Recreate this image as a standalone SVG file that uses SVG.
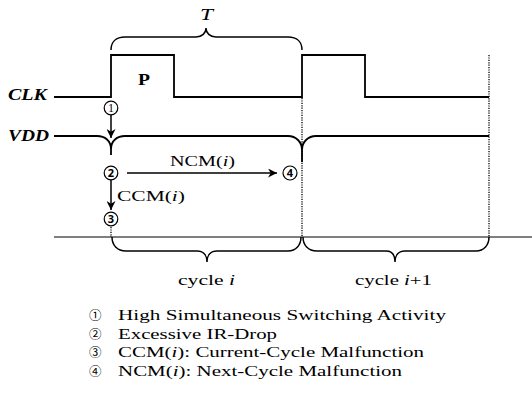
<svg xmlns="http://www.w3.org/2000/svg" width="532" height="397" viewBox="0 0 532 397">
<style>
.t{font-family:"Liberation Serif","Times New Roman",serif;fill:#000}
.wave{fill:none;stroke:#000;stroke-width:1.8}
.brace{fill:none;stroke:#000;stroke-width:1.5}
.dot{fill:none;stroke:#000;stroke-width:1.3;stroke-dasharray:1.2 1.2}
.arr{fill:none;stroke:#000;stroke-width:1.5;marker-end:url(#ah)}
.nc{fill:#fff;stroke:#000;stroke-width:1.2}
.nd{font-family:"Noto Sans","DejaVu Sans",sans-serif;font-size:11px;font-weight:bold;text-anchor:middle;fill:#000}
.ns{font-family:"Liberation Serif",serif;font-size:12px;text-anchor:middle;fill:#000}
.cj{font-family:"Noto Sans CJK JP","DejaVu Sans",sans-serif;font-size:12.5px;fill:#000}
</style>
<defs>
<marker id="ah" viewBox="0 0 10 10" refX="10" refY="5" markerWidth="9" markerHeight="9" markerUnits="userSpaceOnUse" orient="auto">
<path d="M0,0 L10,5 L0,10 L3,5 z" fill="#000"/>
</marker>
</defs>
<g id="signals">
<path id="clk-wave" class="wave" d="M54,97 L111,97 L111,55 L174,55 L174,97 L302,97 L302,55 L365,55 L365,97 L489,97"/>
<path id="vdd-wave" class="wave" d="M54,136 L97,136 C105,136 111,141 111,149 L111,155 M111,155 L111,149 C111,141 117,136 125,136 L288,136 C296,136 302,142 302,150 L302,162 M302,162 L302,150 C302,142 308,136 316,136 L489,136"/>
<line id="axis" x1="54" y1="237" x2="532" y2="237" stroke="#000" stroke-width="1.2"/>
<line class="dot" x1="302" y1="98" x2="302" y2="237"/>
<line class="dot" x1="489" y1="55" x2="489" y2="237"/>
<line class="dot" x1="111" y1="227" x2="111" y2="237"/>
<path id="brace-T" class="brace" d="M111,50 C111,42 116,37 125,37 L196,37 C202,37 206,33 206,28 C206,33 210,37 216,37 L288,37 C297,37 302,42 302,50"/>
<path id="brace-ci" class="brace" d="M112,237 C112,245 117,251 126,251 L197,251 C203,251 207,255 207,262 C207,255 211,251 217,251 L288,251 C296,251 301,245 301,237"/>
<path id="brace-ci1" class="brace" d="M303,237 C303,245 308,251 317,251 L386,251 C392,251 395,255 395,262 C395,255 399,251 405,251 L476,251 C484,251 489,245 489,237"/>
<text class="t" x="200" y="20" font-size="17" font-style="italic" textLength="13" lengthAdjust="spacingAndGlyphs">T</text>
<text class="t" x="138" y="85" font-size="17.5" font-weight="bold" textLength="12" lengthAdjust="spacingAndGlyphs">P</text>
<text class="t" x="8" y="100" font-size="17.5" font-weight="bold" font-style="italic" textLength="39" lengthAdjust="spacingAndGlyphs">CLK</text>
<text class="t" x="8" y="141" font-size="17.5" font-weight="bold" font-style="italic" textLength="41" lengthAdjust="spacingAndGlyphs">VDD</text>
<text class="t" x="178" y="285" font-size="15.5" textLength="57" lengthAdjust="spacingAndGlyphs">cycle <tspan font-style="italic">i</tspan></text>
<text class="t" x="355" y="285" font-size="15.5" textLength="77" lengthAdjust="spacingAndGlyphs">cycle <tspan font-style="italic">i</tspan>+1</text>
</g>
<g id="n1"><circle class="nc" cx="111" cy="108" r="6.8"/><text class="ns" x="111" y="112.3">1</text></g>
<g id="n2"><circle class="nc" cx="111" cy="173" r="6.8"/><text class="nd" x="111" y="177">2</text></g>
<g id="n3"><circle class="nc" cx="111" cy="219" r="6.8"/><text class="nd" x="111" y="223">3</text></g>
<g id="n4"><circle class="nc" cx="290" cy="173" r="7"/><text class="nd" x="290" y="177">4</text></g>
<g id="connectors">
<line class="arr" x1="111" y1="115" x2="111" y2="138"/>
<line class="arr" x1="111" y1="180" x2="111" y2="210"/>
<line class="arr" x1="127" y1="173" x2="277" y2="173"/>
<text class="t" x="170" y="166" font-size="15.5" textLength="65" lengthAdjust="spacingAndGlyphs">NCM(<tspan font-style="italic">i</tspan>)</text>
<text class="t" x="117" y="201" font-size="15.5" textLength="68" lengthAdjust="spacingAndGlyphs">CCM(<tspan font-style="italic">i</tspan>)</text>
</g>
<g id="legend">
<text class="cj" x="89" y="320">①</text>
<text class="cj" x="89" y="338.5">②</text>
<text class="cj" x="89" y="357">③</text>
<text class="cj" x="89" y="375.5">④</text>
<text class="t" x="118" y="320" font-size="15.5" textLength="328" lengthAdjust="spacingAndGlyphs">High Simultaneous Switching Activity</text>
<text class="t" x="118" y="338.5" font-size="15.5" textLength="159" lengthAdjust="spacingAndGlyphs">Excessive IR-Drop</text>
<text class="t" x="118" y="357" font-size="15.5" textLength="306" lengthAdjust="spacingAndGlyphs">CCM(<tspan font-style="italic">i</tspan>): Current-Cycle Malfunction</text>
<text class="t" x="118" y="375.5" font-size="15.5" textLength="284" lengthAdjust="spacingAndGlyphs">NCM(<tspan font-style="italic">i</tspan>): Next-Cycle Malfunction</text>
</g>
</svg>
